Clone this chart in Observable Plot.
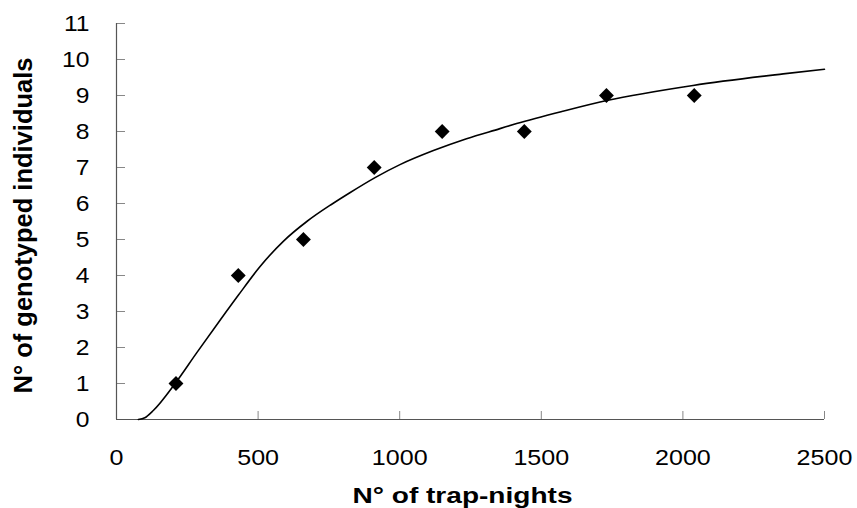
<!DOCTYPE html>
<html><head><meta charset="utf-8">
<script src="https://cdn.jsdelivr.net/npm/d3@7"></script>
<script src="https://cdn.jsdelivr.net/npm/@observablehq/plot@0.6"></script>
<style>html,body{margin:0;padding:0;background:#fff}</style>
</head><body><div id="chart"></div>
<script>
// Observed points
const trapNights = [210, 430, 660, 910, 1150, 1440, 1730, 2040];
const individuals = [1, 4, 5, 7, 8, 8, 9, 9];
// Fitted curve
const curveX = [77, 100, 130, 207, 283, 365, 430, 507, 589, 672, 760, 824, 913, 1001, 1119, 1236, 1354, 1413, 1580, 1731, 2036, 2354, 2500];
const curveY = [0, 0.05, 0.25, 1.0, 1.85, 2.75, 3.45, 4.25, 4.95, 5.5, 5.98, 6.3, 6.72, 7.08, 7.47, 7.8, 8.08, 8.22, 8.57, 8.86, 9.28, 9.6, 9.73];
// Axes
const xTicks = [0, 500, 1000, 1500, 2000, 2500];
const yTicks = [0, 1, 2, 3, 4, 5, 6, 7, 8, 9, 10, 11];
const xTitle = "N° of trap-nights";
const yTitle = "N° of genotyped individuals";

const points = trapNights.map((x, i) => ({x, y: individuals[i]}));
const curve = curveX.map((x, i) => ({x, y: curveY[i]}));

const chart = Plot.plot({
  width: 857, height: 508,
  marginLeft: 116, marginRight: 33, marginTop: 23, marginBottom: 89,
  x: {domain: [0, 2500]},
  y: {domain: [0, 11]},
  style: {fontFamily: "'Liberation Sans', Arial, sans-serif", fontSize: "22px", color: "#000", background: "#fff"},
  marks: [
    Plot.axisX({ticks: xTicks, tickSize: -8, tickPadding: 38, tickFormat: d => String(d), label: null, stroke: "#888", fill: "#000"}),
    Plot.axisY({ticks: yTicks, tickSize: -9, tickPadding: 36, tickFormat: d => String(d), label: null, stroke: "#888", fill: "#000"}),
    Plot.ruleX([0], {stroke: "#555", strokeWidth: 1.2}),
    Plot.ruleY([0], {stroke: "#555", strokeWidth: 1.2}),
    Plot.line(curve, {x: "x", y: "y", curve: "monotone-x", stroke: "#000", strokeWidth: 1.6}),
    Plot.dot(points, {x: "x", y: "y", symbol: "diamond2", r: 6.7, fill: "#000", stroke: "none"}),
    Plot.text([xTitle], {frameAnchor: "bottom", textAnchor: "middle", dx: -8, dy: 83, text: d => d, fontWeight: "bold", fontSize: 22, fill: "#000"}),
    Plot.text([yTitle], {frameAnchor: "left", textAnchor: "middle", dx: -93, dy: 4, rotate: -90, text: d => d, fontWeight: "bold", fontSize: 25.5, fill: "#000"})
  ]
});
document.getElementById("chart").appendChild(chart);

// horizontal stretch of texts as in the original rendering
function stretch(sel, f) {
  chart.querySelectorAll(sel).forEach(t => {
    const len = t.getComputedTextLength();
    t.setAttribute("textLength", len * f);
    t.setAttribute("lengthAdjust", "spacingAndGlyphs");
  });
}
stretch('[aria-label="x-axis tick label"] text', 1.14);
stretch('[aria-label="y-axis tick label"] text', 1.12);
chart.querySelectorAll('[aria-label="text"] text').forEach(t => {
  if (t.textContent === xTitle) { t.setAttribute("textLength", 220); t.setAttribute("lengthAdjust", "spacingAndGlyphs"); }
});
</script>
</body></html>
